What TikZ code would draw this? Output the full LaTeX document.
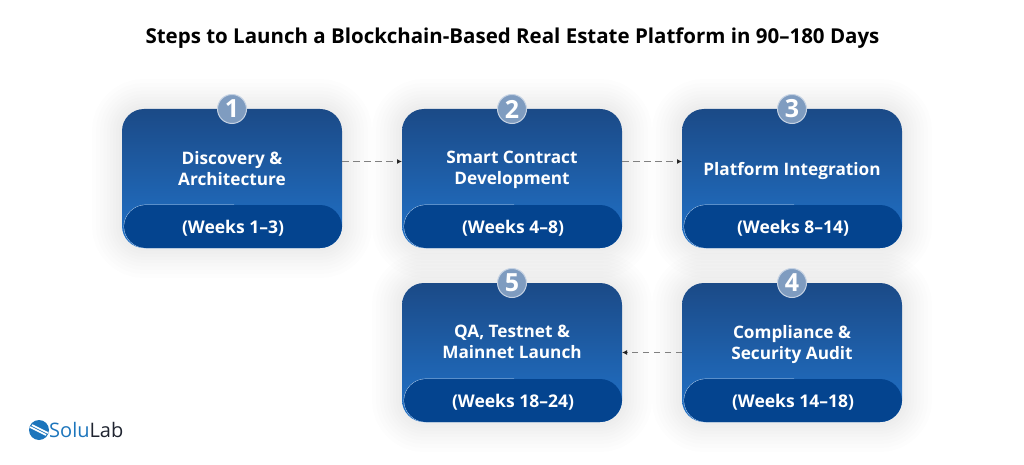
\documentclass[tikz,border=0pt]{standalone}
\usepackage{fontspec}
\setmainfont{Open Sans}
\usetikzlibrary{positioning,arrows.meta}
\definecolor{cardtop}{HTML}{1B4A87}
\definecolor{cardbot}{HTML}{2173CA}
\definecolor{footblue}{HTML}{04448F}
\definecolor{badgeblue}{HTML}{7F9CC0}
\definecolor{logoblue}{HTML}{1C75BC}
\definecolor{logodark}{HTML}{1F2430}
\begin{document}
\begin{tikzpicture}[x=1pt,y=1pt]
\tikzstyle{halo}=[preaction={draw=black,draw opacity=.008,line width=60pt},preaction={draw=black,draw opacity=.008,line width=52pt},preaction={draw=black,draw opacity=.008,line width=44pt},preaction={draw=black,draw opacity=.008,line width=37pt},preaction={draw=black,draw opacity=.008,line width=30pt},preaction={draw=black,draw opacity=.008,line width=24pt},preaction={draw=black,draw opacity=.008,line width=18pt},preaction={draw=black,draw opacity=.008,line width=12pt},preaction={draw=black,draw opacity=.008,line width=6pt}]
\tikzstyle{card}=[rectangle, minimum width=220pt, minimum height=139pt, rounded corners=22pt, outer sep=0pt, top color=cardtop, bottom color=cardbot, halo]
\tikzstyle{foot}=[rectangle, minimum width=218pt, minimum height=43pt, rounded corners=22pt, outer sep=0pt, fill=footblue, text=white, text height=16pt, text depth=3pt, font=\fontsize{17.5}{20}\selectfont\bfseries, append after command={\pgfextra{\draw[white!75!cardbot, line width=0.8pt, rounded corners=22pt] ([xshift=25pt]\tikzlastnode.south west) -- (\tikzlastnode.south west) -- (\tikzlastnode.north west) -- ([xshift=110pt]\tikzlastnode.north west);}}]
\tikzstyle{badge}=[circle, minimum size=29pt, inner sep=0pt, draw=white!55!badgeblue, line width=1pt, fill=badgeblue, text=white, font=\fontsize{25}{25}\selectfont\bfseries]
\tikzstyle{title}=[align=center, text=white, font=\fontsize{17.2}{21}\selectfont\bfseries, execute at begin node=\strut, execute at end node=\strut]
\tikzstyle{connect}=[-{Latex[length=5pt,width=5pt,black!85]}, draw=black!50, dash pattern=on 6.5pt off 4.5pt, line width=1.2pt]
\useasboundingbox (0,0) rectangle (1024,464);
\node[font=\fontsize{20.5}{26}\selectfont\bfseries, text=black] (heading) at (512.5,426) {Steps to Launch a Blockchain-Based Real Estate Platform in 90--180 Days};
\node[card] (card1) at (232,285.5) {};
\node[card] [right=60pt of card1] (card2) {};
\node[card] [right=60pt of card2] (card3) {};
\node[card] [below=35pt of card3] (card4) {};
\node[card] [left=60pt of card4] (card5) {};
\node[foot,anchor=south east] (foot1) at (card1.south east) {(Weeks 1--3)};
\node[foot,anchor=south east] (foot2) at (card2.south east) {(Weeks 4--8)};
\node[foot,anchor=south east] (foot3) at (card3.south east) {(Weeks 8--14)};
\node[foot,anchor=south east] (foot4) at (card4.south east) {(Weeks 14--18)};
\node[foot,anchor=south east] (foot5) at (card5.south east) {(Weeks 18--24)};
\node[title] (title1) at ([yshift=7.2pt]card1.center) {Discovery \&\\Architecture};
\node[title] (title2) at ([yshift=7.2pt]card2.center) {Smart Contract\\Development};
\node[title] (title3) at ([yshift=7.2pt]card3.center) {Platform Integration};
\node[title] (title4) at ([yshift=7.2pt]card4.center) {Compliance \&\\Security Audit};
\node[title] (title5) at ([yshift=7.2pt]card5.center) {QA, Testnet \&\\Mainnet Launch};
\node[badge] (badge1) at (card1.north) {1};
\node[badge] (badge2) at (card2.north) {2};
\node[badge] (badge3) at (card3.north) {3};
\node[badge] (badge4) at (card4.north) {4};
\node[badge] (badge5) at (card5.north) {5};
\path ([yshift=17pt]card1.east) edge [connect] ([yshift=17pt]card2.west);
\path ([yshift=17pt]card2.east) edge [connect] ([yshift=17pt]card3.west);
\path (card4.west) edge [connect] (card5.east);
% logo
\node[circle, minimum size=20pt, inner sep=0pt, fill=logoblue] (logomark) at (39,34) {};
\draw[white, line width=1.6pt] ([shift={(-9,3)}]logomark.center) -- ([shift={(7,-5)}]logomark.center);
\draw[white, line width=1.6pt] ([shift={(-7,5)}]logomark.center) -- ([shift={(9,-3)}]logomark.center);
\node[anchor=west, inner sep=0pt, font=\fontsize{20}{24}\selectfont, text=logoblue] (logotext) at (49,34) {Solu\textcolor{logodark}{Lab}};
\end{tikzpicture}
\end{document}
